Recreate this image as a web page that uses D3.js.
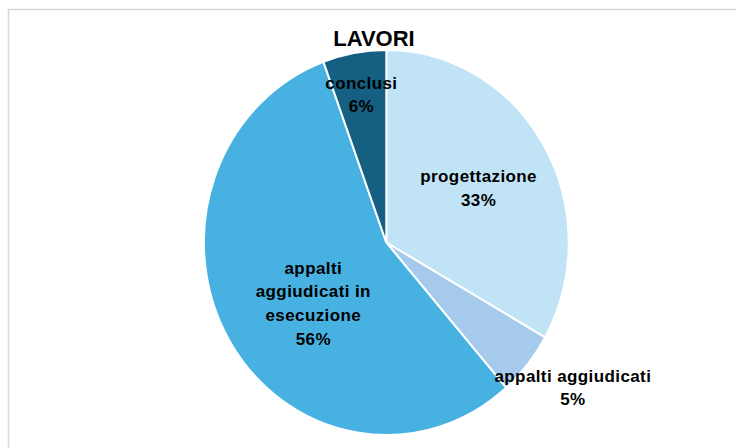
<!DOCTYPE html>
<html>
<head>
<meta charset="utf-8">
<script src="https://cdn.jsdelivr.net/npm/d3@7"></script>
<style>
  body { margin: 0; background: #fff; }
  svg { display: block; }
  text { font-family: "Liberation Sans", Arial, sans-serif; font-weight: bold; fill: #000; }
</style>
</head>
<body>
<div id="chart"></div>
<script>
// data (share of each phase, %)
const categories = ["progettazione", "appalti aggiudicati", "appalti aggiudicati in esecuzione", "conclusi"];
const values = [33.2, 5.4, 55.8, 5.6];
const colors = ["#c0e4f5", "#a6caec", "#47b1e1", "#156082"];
const title = "LAVORI";

// label lines as Excel wraps them
const labelLines = [
  ["progettazione"],
  ["appalti aggiudicati"],
  ["appalti", "aggiudicati in", "esecuzione"],
  ["conclusi"]
];
// where each label sits: fraction of radius, angle nudge (deg)
const labelPlace = [
  { k: 0.58, da: 1 },
  { k: 1.27, da: -2.9 },
  { k: 0.51, da: -7.7 },
  { k: 0.78, da: 0 }
];

const width = 736;
const height = 448;
const cx = 386.3, cy = 242.5;
const rx = 182.4, ry = 192.5;
const lineH = 23.6;

const svg = d3.select("#chart")
  .append("svg")
  .attr("width", width)
  .attr("height", height);

// chart area frame
svg.append("path")
  .attr("d", "M8.5,448 L8.5,9.5 L736,9.5")
  .attr("fill", "none")
  .attr("stroke", "#d9d9d9")
  .attr("stroke-width", 1.5);

const total = d3.sum(values);
const pie = d3.pie().sort(null).value(d => d.value);
const arcs = pie(values.map((v, i) => ({ name: categories[i], value: v, i: i })));

const arc = d3.arc().innerRadius(0).outerRadius(rx);

// the pie in the picture is slightly taller than wide
const g = svg.append("g")
  .attr("transform", `translate(${cx},${cy}) scale(1,${ry / rx})`);

g.selectAll("path")
  .data(arcs)
  .enter().append("path")
    .attr("d", arc)
    .attr("fill", d => colors[d.data.i])
    .attr("stroke", "#fff")
    .attr("stroke-width", 2)
    .attr("vector-effect", "non-scaling-stroke");

svg.append("text")
  .attr("x", 374)
  .attr("y", 46)
  .attr("text-anchor", "middle")
  .style("font-size", "22px")
  .text(title);

const labels = svg.append("g");
arcs.forEach(function(d) {
  const p = labelPlace[d.data.i];
  const a = (d.startAngle + d.endAngle) / 2 + p.da * Math.PI / 180;
  const x = cx + Math.sin(a) * rx * p.k;
  const y = cy - Math.cos(a) * ry * p.k;
  const lines = labelLines[d.data.i].concat([Math.round(d.value / total * 100) + "%"]);
  const top = y - (lines.length - 1) * lineH / 2;
  const t = labels.append("text")
    .attr("text-anchor", "middle")
    .style("font-size", "17px")
    .style("letter-spacing", "0.4px");
  lines.forEach(function(s, j) {
    t.append("tspan")
      .attr("x", x)
      .attr("y", top + j * lineH)
      .attr("dy", "0.35em")
      .text(s);
  });
});
</script>
</body>
</html>
